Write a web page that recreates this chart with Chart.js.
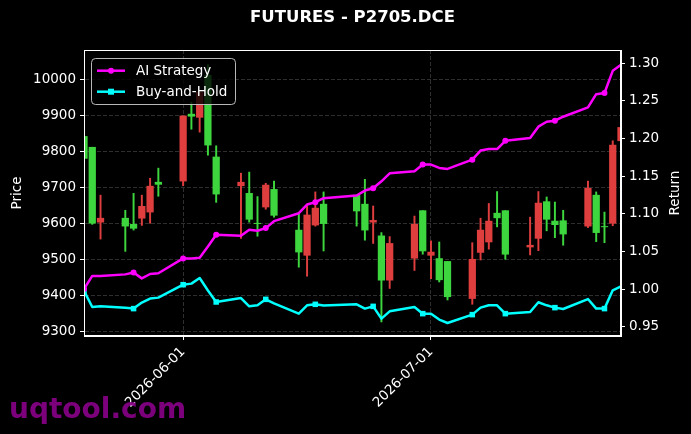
<!DOCTYPE html>
<html>
<head>
<meta charset="utf-8">
<script src="https://cdn.jsdelivr.net/npm/chart.js@4.4.0/dist/chart.umd.min.js"></script>
<style>
  html, body { margin: 0; padding: 0; background: #000; }
  canvas { display: block; }
</style>
</head>
<body>
<canvas id="chart" width="691" height="434"></canvas>
<script>
// trading days
const dates = [
  '2026-05-20','2026-05-21','2026-05-22','2026-05-25','2026-05-26','2026-05-27','2026-05-28','2026-05-29',
  '2026-06-01','2026-06-02','2026-06-03','2026-06-04','2026-06-05',
  '2026-06-08','2026-06-09','2026-06-10','2026-06-11','2026-06-12',
  '2026-06-15','2026-06-16','2026-06-17','2026-06-18',
  '2026-06-22','2026-06-23','2026-06-24','2026-06-25','2026-06-26',
  '2026-06-29','2026-06-30','2026-07-01','2026-07-02','2026-07-03',
  '2026-07-06','2026-07-07','2026-07-08','2026-07-09','2026-07-10',
  '2026-07-13','2026-07-14','2026-07-15','2026-07-16','2026-07-17',
  '2026-07-20','2026-07-21','2026-07-22','2026-07-23','2026-07-24'
];

const opens = [9841,9811,9603,9614,9597,9614,9631,9714, 9717,9903,9894,10011,9784, 9704,9683,9600,9645,9694,
  9581,9511,9595,9653, 9678,9653,9603,9565,9442, 9503,9635,9511,9502,9494, 9391,9519,9548,9628,9635,
  9534,9558,9660,9606,9607, 9592,9678,9591,9600,9829];
const highs = [9841,9811,9678,9636,9683,9678,9725,9753, 9898,9936,9964,10040,9815, 9739,9742,9674,9711,9717,
  9625,9648,9687,9687, 9678,9722,9648,9574,9563, 9620,9635,9551,9548,9494, 9546,9614,9655,9688,9635,
  9617,9688,9673,9659,9636, 9717,9687,9631,9829,9866];
const lows = [9780,9597,9556,9522,9581,9594,9600,9675, 9704,9861,9853,9789,9658, 9558,9603,9564,9639,9617,
  9478,9453,9592,9523, 9592,9553,9544,9326,9419, 9469,9514,9446,9437,9387, 9375,9498,9528,9590,9500,
  9512,9524,9579,9560,9539, 9588,9549,9546,9593,9829];
const closes = [9780,9600,9614,9592,9586,9647,9703,9708, 9898,9897,9964,9817,9681, 9714,9611,9599,9706,9622,
  9520,9623,9642,9599, 9634,9581,9608,9442,9544, 9597,9523,9520,9443,9396, 9500,9581,9606,9615,9514,
  9539,9656,9611,9596,9570, 9697,9574,9590,9817,9866];

const aiStrategy = [1.000,1.0175,1.0175,1.0195,1.022,1.0142,1.020,1.021, 1.0407,1.0407,1.0416,1.0566,1.0721,
  1.0708,1.0788,1.0775,1.081,1.0902, 1.1008,1.1123,1.1154,1.1207, 1.1243,1.1309,1.134,1.1432,1.1538,
  1.1565,1.1654,1.1654,1.161,1.1597, 1.172,1.184,1.186,1.186,1.197, 1.2008,1.2158,1.2224,1.2237,1.229,
  1.2414,1.259,1.2605,1.29,1.298];
const buyHold = [0.9976,0.9761,0.977,0.975,0.974,0.982,0.9873,0.9886, 1.0058,1.0072,1.0146,0.998,0.9828,
  0.988,0.977,0.9784,0.9863,0.981, 0.9673,0.9784,0.9797,0.978, 0.9797,0.974,0.977,0.9607,0.9704,
  0.9761,0.9673,0.9673,0.9594,0.9549, 0.966,0.9753,0.9784,0.9784,0.9673, 0.9695,0.9824,0.9784,0.9753,0.9735,
  0.9867,0.974,0.974,0.9983,1.0036];

const seriesNames = ['AI Strategy', 'Buy-and-Hold'];
const xTickDates = ['2026-06-01', '2026-07-01'];
const priceTicks = [9300, 9400, 9500, 9600, 9700, 9800, 9900, 10000];
const returnTicks = [0.95, 1.00, 1.05, 1.10, 1.15, 1.20, 1.25, 1.30];

const day0 = Date.parse(dates[0]);
const toDay = d => (Date.parse(d) - day0) / 86400000;
const xs = dates.map(toDay);
const xTicks = xTickDates.map(toDay);

const upColor = 'rgb(222, 62, 62)';
const downColor = 'rgb(62, 214, 62)';
const candleColors = closes.map((c, i) => c >= opens[i] ? upColor : downColor);
const aiColor = '#ff00ff';
const bhColor = '#00ffff';
const gridColor = 'rgba(128,128,128,0.45)';

Chart.defaults.font.family = "'DejaVu Sans', sans-serif";
Chart.defaults.font.size = 13.5;
Chart.defaults.color = '#ffffff';

const decorations = {
  id: 'decorations',
  beforeDraw(chart) {
    const ctx = chart.ctx;
    ctx.save();
    ctx.fillStyle = '#000';
    ctx.fillRect(0, 0, chart.width, chart.height);
    ctx.restore();
  },
  afterDraw(chart) {
    const ctx = chart.ctx;
    const a = chart.chartArea;
    ctx.save();
    // frame
    ctx.strokeStyle = '#ffffff';
    ctx.lineWidth = 1;
    ctx.strokeRect(a.left + 0.5, a.top + 0.5, a.right - a.left - 1, a.bottom - a.top - 1);

    // title
    ctx.fillStyle = '#ffffff';
    ctx.font = "bold 16.5px 'DejaVu Sans'";
    ctx.textAlign = 'center';
    ctx.textBaseline = 'middle';
    ctx.fillText('FUTURES - P2705.DCE', (a.left + a.right) / 2, 18);

    // axis titles
    ctx.font = "13.5px 'DejaVu Sans'";
    const midY = (a.top + a.bottom) / 2;
    ctx.save();
    ctx.translate(17, midY);
    ctx.rotate(-Math.PI / 2);
    ctx.fillText('Price', 0, 0);
    ctx.restore();
    ctx.save();
    ctx.translate(675, midY);
    ctx.rotate(-Math.PI / 2);
    ctx.fillText('Return', 0, 0);
    ctx.restore();

    // legend
    ctx.beginPath();
    ctx.roundRect(91.5, 58.5, 144, 46, 4);
    ctx.fillStyle = 'rgba(0,0,0,0.8)';
    ctx.fill();
    ctx.strokeStyle = 'rgba(204,204,204,0.9)';
    ctx.lineWidth = 1;
    ctx.stroke();
    const colors = [aiColor, bhColor];
    seriesNames.forEach((name, i) => {
      const y = 70.7 + i * 21;
      ctx.strokeStyle = colors[i];
      ctx.fillStyle = colors[i];
      ctx.lineWidth = 2.5;
      ctx.beginPath();
      ctx.moveTo(97, y);
      ctx.lineTo(125, y);
      ctx.stroke();
      if (i === 0) {
        ctx.beginPath();
        ctx.arc(111, y, 3, 0, Math.PI * 2);
        ctx.fill();
      } else {
        ctx.fillRect(108, y - 3, 6, 6);
      }
      ctx.fillStyle = '#ffffff';
      ctx.textAlign = 'left';
      ctx.font = "13.5px 'DejaVu Sans'";
      ctx.fillText(name, 136, y + 0.5);
    });

    // watermark
    ctx.fillStyle = 'rgba(135,0,135,0.92)';
    ctx.font = "bold 28px 'DejaVu Sans'";
    ctx.textAlign = 'left';
    ctx.textBaseline = 'alphabetic';
    ctx.fillText('uqtool.com', 9, 418);
    ctx.restore();
  }
};

const markerRadius = (r) => xs.map((x, i) => i % 4 === 0 ? r : 0);

new Chart(document.getElementById('chart'), {
  type: 'bar',
  data: {
    datasets: [
      {
        type: 'line',
        label: seriesNames[0],
        data: xs.map((x, i) => ({ x, y: aiStrategy[i] })),
        yAxisID: 'y1',
        borderColor: aiColor,
        backgroundColor: aiColor,
        borderWidth: 2.5,
        borderJoinStyle: 'round',
        pointStyle: 'circle',
        pointRadius: markerRadius(3),
        pointBorderWidth: 0,
        tension: 0,
        order: 0,
        clip: 0
      },
      {
        type: 'line',
        label: seriesNames[1],
        data: xs.map((x, i) => ({ x, y: buyHold[i] })),
        yAxisID: 'y1',
        borderColor: bhColor,
        backgroundColor: bhColor,
        borderWidth: 2.5,
        borderJoinStyle: 'round',
        pointStyle: 'rect',
        pointRadius: markerRadius(3.9),
        pointBorderWidth: 0,
        tension: 0,
        order: 1,
        clip: 0
      },
      {
        label: 'Body',
        data: xs.map((x, i) => ({ x, y: [opens[i], closes[i]] })),
        yAxisID: 'y',
        backgroundColor: candleColors,
        grouped: false,
        barPercentage: 1,
        categoryPercentage: 1,
        maxBarThickness: 6.6,
        order: 2,
        clip: 0
      },
      {
        label: 'Wick',
        data: xs.map((x, i) => ({ x, y: [lows[i], highs[i]] })),
        yAxisID: 'y',
        backgroundColor: candleColors,
        grouped: false,
        barPercentage: 1,
        categoryPercentage: 1,
        maxBarThickness: 1.3,
        order: 3,
        clip: 0
      }
    ]
  },
  options: {
    responsive: false,
    animation: false,
    devicePixelRatio: 1,
    layout: { padding: { top: 50, left: 0, right: 0, bottom: 0 } },
    plugins: {
      legend: { display: false },
      title: { display: false },
      tooltip: { enabled: false }
    },
    scales: {
      x: {
        type: 'linear',
        min: xs[0],
        max: xs[xs.length - 1],
        offset: false,
        grid: { offset: false, color: gridColor, lineWidth: 0.8, tickColor: '#ffffff', tickLength: 4, tickWidth: 1 },
        border: { display: true, color: '#ffffff', dash: [4, 2] },
        afterBuildTicks: s => { s.ticks = xTicks.map(v => ({ value: v })); },
        afterFit: s => { s.height = 98; },
        ticks: {
          autoSkip: false,
          minRotation: 45,
          maxRotation: 45,
          padding: 4,
          color: '#ffffff',
          callback: (v) => xTickDates[xTicks.indexOf(v)] || ''
        }
      },
      y: {
        position: 'left',
        min: 9287,
        max: 10081,
        beginAtZero: false,
        grid: { color: gridColor, lineWidth: 0.8, tickColor: '#ffffff', tickLength: 4, tickWidth: 1 },
        border: { display: true, color: '#ffffff', dash: [4, 2] },
        afterBuildTicks: s => { s.ticks = priceTicks.map(v => ({ value: v })); },
        afterFit: s => { s.width = 84; },
        ticks: { color: '#ffffff', padding: 4, callback: v => String(v) }
      },
      y1: {
        position: 'right',
        min: 0.9376,
        max: 1.3177,
        beginAtZero: false,
        grid: { drawOnChartArea: false, tickColor: '#ffffff', tickLength: 4, tickWidth: 1 },
        border: { display: true, color: '#ffffff' },
        afterBuildTicks: s => { s.ticks = returnTicks.map(v => ({ value: v })); },
        afterFit: s => { s.width = 70; },
        ticks: { color: '#ffffff', padding: 4, callback: v => v.toFixed(2) }
      }
    }
  },
  plugins: [decorations]
});
</script>
</body>
</html>
